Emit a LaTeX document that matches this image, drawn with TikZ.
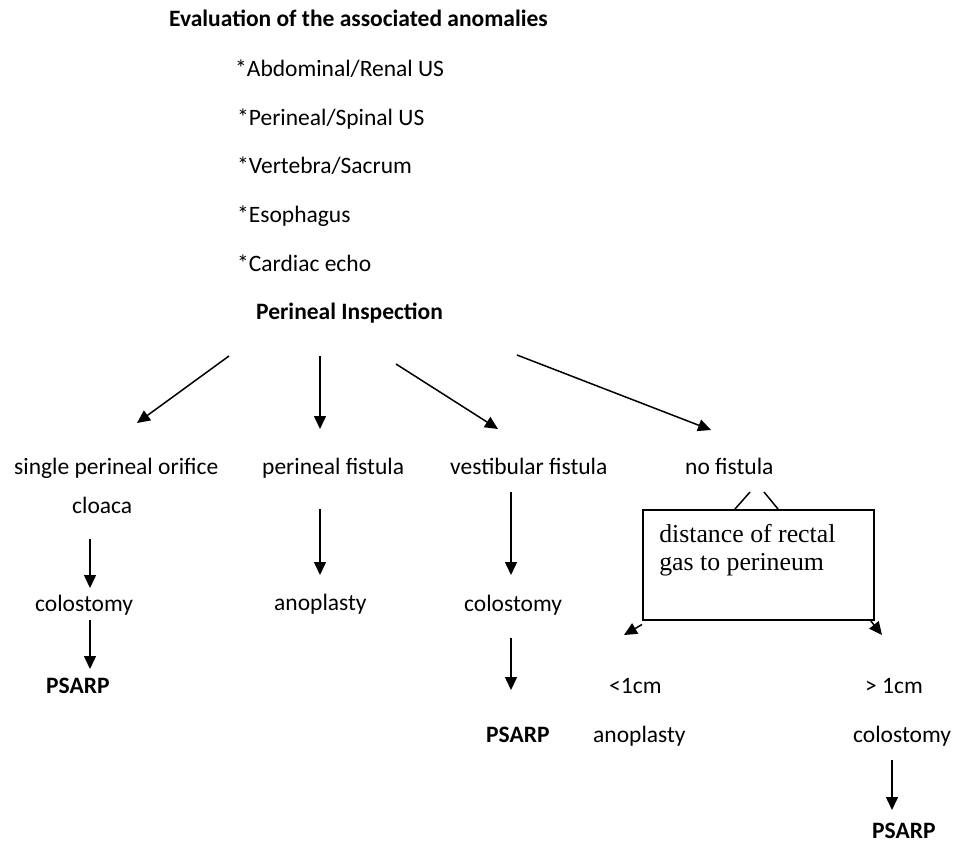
\documentclass[tikz,border=0pt]{standalone}
\usepackage{fontspec}
\setmainfont{Carlito}
\newfontfamily\boxfont{Liberation Serif}
\usetikzlibrary{arrows.meta,positioning}
\tikzset{
  txt/.style  = {anchor=base west, inner sep=0pt, font=\fontsize{23.5}{28}\selectfont},
  hd/.style   = {txt, font=\fontsize{23.5}{28}\selectfont\bfseries},
  qbox/.style = {rectangle, draw, line width=1.5pt, anchor=north west, inner sep=0pt,
                 minimum width=231pt, minimum height=110pt},
  fl/.style   = {-{Triangle[length=13pt,width=12pt]}, line width=1.5pt},
  ln/.style   = {line width=1.5pt},
}

\begin{document}
\begin{tikzpicture}[x=1pt, y=-1pt]
  \useasboundingbox (0,0) rectangle (955,843);

  % work-up
  \node[hd] (eval) at (169,27) {Evaluation of the associated anomalies};
  \node[txt] (us1) at (235,76) {*Abdominal/Renal US};
  \node[txt] (us2) at (237,125) {*Perineal/Spinal US};
  \node[txt] (vert) at (237,173) {*Vertebra/Sacrum};
  \node[txt] (eso) at (237,222) {*Esophagus};
  \node[txt] (echo) at (237,271) {*Cardiac echo};
  \node[hd] (insp) at (256,319) {Perineal Inspection};

  % findings
  \node[txt] (orif) at (14,474) {single perineal orifice};
  \node[txt] (pfist) at (262,474) {perineal fistula};
  \node[txt] (vfist) at (450,474) {vestibular fistula};
  \node[txt] (nofist) at (685,474) {no fistula};

  % cloaca branch
  \node[txt] (cloaca) at (72,513) {cloaca};
  \node[txt] (colo1) at (35,611) {colostomy};
  \node[hd] (psarp1) at (46,693) {PSARP};

  % perineal branch
  \node[txt] (ano1) at (274,610) {anoplasty};

  % vestibular branch
  \node[txt] (colo2) at (464,611) {colostomy};
  \node[hd] (psarp2) at (486,742) {PSARP};

  % no fistula branch
  \node[qbox] (gas) at (642,509) {\parbox[c][110pt][t]{198pt}{\raggedright
      \boxfont\fontsize{25.8}{28}\selectfont\rule{0pt}{33pt}distance of rectal\\gas to perineum}};
  \node[txt] (lt) at (609,693) {<1cm};
  \node[txt] (gt) at (865,693) {> 1cm};
  \node[txt] (ano2) at (593,742) {anoplasty};
  \node[txt] (colo3) at (853,742) {colostomy};
  \node[hd] (psarp3) at (872,838) {PSARP};

  % arrow ends
  \coordinate (i1) at (229,356); \coordinate (t1) at (137,423);
  \coordinate (i2) at (320,356); \coordinate (t2) at (320,429);
  \coordinate (i3) at (396,364); \coordinate (t3) at (498,429);
  \coordinate (i4) at (517,355); \coordinate (t4) at (711,430);
  \coordinate (c1a) at (90,539); \coordinate (c1b) at (90,588);
  \coordinate (c2a) at (90,620); \coordinate (c2b) at (90,669);
  \coordinate (p1a) at (320,509); \coordinate (p1b) at (320,575);
  \coordinate (v1a) at (511,492); \coordinate (v1b) at (511,575);
  \coordinate (v2a) at (511,638); \coordinate (v2b) at (511,690);
  \coordinate (n1) at (750,492); \coordinate (n2) at (764,492);
  \coordinate (g1) at (624,635); \coordinate (g2) at (882,635);
  \coordinate (r1a) at (892,760); \coordinate (r1b) at (892,810);

  \draw[fl] (i1) -- (t1);
  \draw[fl] (i2) -- (t2);
  \draw[fl] (i3) -- (t3);
  \draw[fl] (i4) -- (t4);
  \draw[fl] (c1a) -- (c1b);
  \draw[fl] (c2a) -- (c2b);
  \draw[fl] (p1a) -- (p1b);
  \draw[fl] (v1a) -- (v1b);
  \draw[fl] (v2a) -- (v2b);
  \draw[ln] (n1) -- (gas.north west -| 735,0);
  \draw[ln] (n2) -- (gas.north west -| 778,0);
  \draw[fl] ([yshift=-4pt]gas.south west) -- (g1);
  \draw[fl] ([xshift=-4pt]gas.south east) -- (g2);
  \draw[fl] (r1a) -- (r1b);
\end{tikzpicture}
\end{document}
